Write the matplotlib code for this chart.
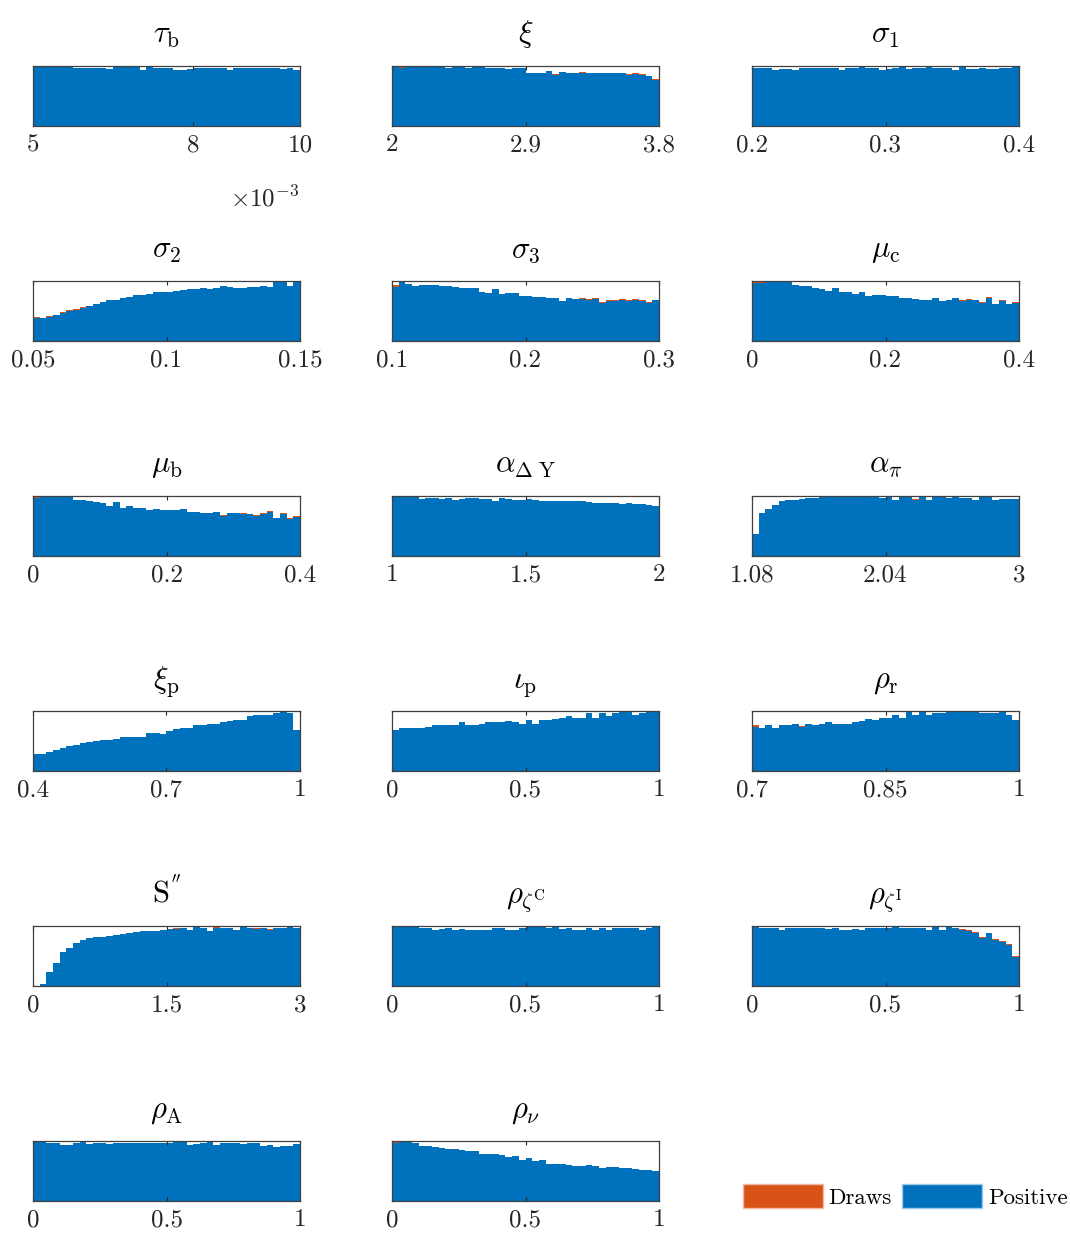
import numpy as np
import matplotlib
matplotlib.use('Agg')
import matplotlib.pyplot as plt
from matplotlib.patches import Patch

plt.rcParams['font.family'] = 'cmr10'
plt.rcParams['mathtext.fontset'] = 'cm'
plt.rcParams['axes.unicode_minus'] = False
plt.rcParams['axes.formatter.use_mathtext'] = True

# bin heights (percent of the tallest bin)
tau_b_pos = [99, 99, 99, 99, 99, 100, 96, 96, 97, 97, 96, 95, 99, 99, 98, 98, 94, 98, 97, 96, 96, 94, 94, 95, 96, 96, 97, 97, 96, 94, 96, 96, 96, 96, 97, 97, 96, 95, 97, 93]
tau_b_drw = [100, 100, 99, 100, 99, 100, 97, 96, 97, 97, 96, 95, 99, 100, 98, 98, 94, 98, 97, 96, 96, 94, 94, 95, 96, 96, 97, 97, 96, 94, 96, 96, 96, 96, 97, 97, 96, 95, 97, 93]
xi_pos = [98, 97, 99, 99, 99, 99, 99, 98, 96, 99, 98, 96, 98, 98, 96, 96, 96, 95, 96, 97, 89, 89, 88, 91, 85, 90, 88, 89, 89, 88, 88, 88, 88, 88, 88, 85, 87, 85, 83, 77]
xi_drw = [100, 98, 100, 100, 100, 99, 100, 98, 96, 100, 98, 96, 98, 98, 96, 96, 96, 95, 96, 97, 89, 89, 88, 91, 86, 90, 88, 89, 90, 89, 89, 89, 89, 89, 89, 86, 88, 86, 84, 79]
sig1_pos = [96, 96, 96, 93, 95, 95, 93, 97, 97, 97, 97, 96, 96, 94, 96, 97, 99, 97, 96, 93, 95, 97, 98, 95, 97, 96, 98, 97, 96, 96, 94, 98, 95, 95, 97, 95, 95, 96, 97, 98]
sig1_drw = [96, 96, 96, 93, 95, 95, 93, 97, 97, 97, 97, 96, 96, 94, 96, 97, 100, 97, 96, 93, 95, 97, 98, 95, 97, 96, 98, 97, 96, 96, 94, 98, 95, 95, 97, 95, 95, 96, 97, 98]
sig2_pos = [38, 38, 40, 43, 47, 50, 52, 55, 59, 62, 65, 68, 69, 72, 74, 76, 77, 78, 81, 82, 82, 84, 85, 86, 87, 88, 86, 89, 91, 90, 89, 89, 90, 90, 92, 90, 99, 99, 91, 98]
sig2_drw = [40, 39, 41, 44, 48, 51, 53, 56, 59, 62, 65, 68, 69, 72, 74, 76, 77, 78, 81, 82, 82, 84, 85, 86, 87, 88, 86, 89, 91, 90, 89, 89, 90, 90, 92, 90, 100, 99, 91, 98]
sig3_pos = [90, 99, 95, 92, 93, 94, 94, 92, 92, 90, 89, 88, 89, 81, 80, 86, 78, 80, 80, 75, 75, 74, 73, 72, 72, 67, 71, 70, 70, 69, 70, 64, 67, 67, 69, 67, 69, 67, 63, 68]
sig3_drw = [93, 100, 95, 92, 93, 94, 94, 92, 92, 90, 89, 88, 89, 81, 80, 86, 78, 80, 80, 75, 75, 74, 73, 72, 72, 67, 71, 70, 71, 70, 71, 65, 68, 68, 70, 68, 70, 68, 65, 69]
mu_c_pos = [97, 97, 98, 99, 99, 99, 94, 92, 91, 89, 86, 83, 88, 81, 81, 79, 81, 75, 77, 76, 75, 75, 72, 72, 70, 69, 69, 71, 67, 69, 71, 67, 69, 69, 64, 72, 61, 67, 61, 64]
mu_c_drw = [98, 98, 99, 100, 100, 99, 94, 92, 91, 89, 86, 83, 88, 81, 81, 79, 81, 75, 77, 76, 75, 75, 72, 72, 70, 69, 69, 71, 67, 69, 72, 68, 70, 69, 65, 73, 62, 68, 62, 65]
mu_b_pos = [97, 99, 100, 100, 100, 100, 94, 93, 91, 90, 89, 84, 90, 80, 83, 80, 80, 76, 78, 77, 76, 76, 78, 73, 73, 71, 71, 73, 67, 71, 71, 70, 70, 67, 70, 74, 63, 70, 62, 65]
mu_b_drw = [98, 100, 100, 100, 100, 100, 94, 93, 91, 90, 89, 84, 90, 80, 83, 80, 80, 76, 78, 77, 76, 76, 78, 73, 73, 71, 71, 73, 68, 72, 72, 71, 70, 68, 71, 75, 64, 71, 63, 66]
a_dy_pos = [100, 100, 100, 100, 95, 96, 96, 95, 96, 94, 95, 96, 96, 95, 95, 92, 96, 95, 94, 93, 95, 94, 92, 91, 92, 91, 92, 91, 91, 90, 88, 88, 89, 88, 86, 88, 86, 87, 85, 84]
a_dy_drw = [100, 100, 100, 100, 95, 96, 96, 95, 96, 94, 95, 96, 96, 95, 95, 92, 96, 95, 94, 93, 95, 94, 92, 91, 92, 91, 92, 91, 91, 90, 88, 88, 89, 88, 86, 88, 86, 87, 85, 84]
a_pi_pos = [37, 72, 79, 85, 91, 93, 94, 95, 96, 97, 98, 99, 98, 99, 99, 99, 98, 99, 98, 96, 99, 93, 98, 99, 94, 99, 93, 99, 100, 96, 99, 96, 97, 94, 99, 100, 94, 95, 95, 95]
a_pi_drw = [37, 72, 79, 85, 91, 93, 94, 95, 96, 97, 98, 99, 98, 99, 99, 99, 98, 99, 98, 96, 99, 94, 98, 99, 95, 99, 94, 99, 100, 96, 99, 96, 97, 94, 99, 100, 94, 95, 95, 95]
xi_p_pos = [29, 28, 32, 35, 39, 42, 44, 46, 48, 50, 52, 52, 53, 57, 56, 56, 57, 63, 63, 61, 66, 70, 71, 72, 76, 77, 78, 79, 81, 83, 85, 85, 91, 94, 94, 94, 96, 99, 96, 68]
xi_p_drw = [29, 28, 32, 35, 39, 42, 44, 46, 48, 50, 52, 52, 53, 57, 56, 56, 57, 63, 63, 61, 66, 70, 71, 72, 76, 77, 78, 79, 81, 83, 85, 85, 91, 94, 94, 94, 96, 100, 96, 68]
iota_p_pos = [69, 71, 71, 72, 72, 74, 76, 76, 77, 77, 81, 76, 76, 78, 82, 82, 82, 83, 81, 78, 85, 79, 85, 85, 86, 88, 91, 89, 89, 96, 88, 96, 92, 96, 98, 99, 93, 96, 98, 99]
iota_p_drw = [69, 71, 71, 72, 72, 74, 76, 76, 77, 77, 81, 76, 76, 78, 82, 82, 82, 83, 81, 78, 85, 79, 85, 85, 86, 88, 91, 89, 89, 96, 88, 96, 92, 96, 98, 100, 93, 96, 98, 100]
rho_r_pos = [74, 71, 76, 71, 76, 76, 78, 74, 78, 76, 78, 82, 78, 78, 79, 82, 83, 87, 85, 88, 88, 94, 88, 99, 93, 98, 93, 96, 96, 98, 99, 99, 98, 98, 97, 96, 96, 98, 94, 85]
rho_r_drw = [76, 72, 77, 72, 77, 77, 78, 75, 78, 76, 78, 82, 78, 78, 79, 82, 83, 87, 85, 88, 88, 94, 88, 100, 93, 98, 93, 96, 96, 98, 99, 99, 98, 98, 97, 96, 96, 98, 94, 85]
s_pp_pos = [0, 4, 23, 38, 56, 63, 71, 76, 80, 81, 82, 84, 85, 87, 88, 90, 91, 91, 92, 93, 95, 95, 96, 93, 99, 97, 91, 97, 96, 96, 93, 99, 96, 95, 96, 94, 96, 97, 99, 96]
s_pp_drw = [0, 4, 23, 38, 56, 63, 71, 76, 80, 81, 82, 84, 85, 87, 88, 90, 91, 91, 92, 93, 95, 96, 96, 94, 99, 97, 92, 98, 97, 96, 94, 100, 96, 96, 97, 95, 96, 97, 99, 97]
rho_zc_pos = [98, 98, 98, 98, 96, 96, 93, 95, 96, 93, 95, 94, 94, 94, 93, 96, 96, 94, 94, 96, 99, 98, 98, 97, 99, 95, 96, 94, 94, 97, 93, 96, 94, 96, 96, 96, 96, 94, 96, 98]
rho_zc_drw = [98, 98, 98, 98, 96, 96, 93, 95, 96, 93, 95, 94, 94, 94, 93, 96, 96, 94, 94, 96, 99, 98, 98, 97, 100, 95, 96, 94, 94, 97, 93, 96, 94, 96, 96, 96, 96, 94, 96, 99]
rho_zi_pos = [98, 96, 96, 97, 94, 97, 97, 97, 97, 96, 96, 95, 96, 94, 93, 95, 94, 96, 96, 96, 97, 98, 96, 96, 96, 96, 94, 98, 94, 99, 96, 94, 92, 89, 80, 88, 77, 74, 69, 49]
rho_zi_drw = [98, 96, 96, 97, 94, 97, 97, 97, 97, 96, 96, 95, 96, 94, 93, 95, 94, 96, 96, 96, 97, 98, 96, 96, 96, 96, 94, 98, 94, 100, 97, 95, 93, 90, 81, 89, 78, 75, 70, 50]
rho_a_pos = [99, 99, 97, 97, 94, 94, 97, 99, 95, 96, 97, 95, 96, 97, 97, 97, 97, 96, 96, 97, 97, 98, 99, 93, 95, 97, 98, 93, 97, 96, 96, 95, 96, 96, 92, 94, 90, 91, 91, 95]
rho_a_drw = [100, 99, 97, 97, 94, 94, 97, 100, 95, 96, 97, 95, 96, 97, 97, 97, 97, 96, 96, 97, 97, 98, 99, 93, 95, 97, 98, 93, 97, 96, 96, 95, 96, 96, 92, 94, 90, 91, 91, 95]
rho_nu_pos = [96, 99, 99, 96, 92, 92, 90, 88, 87, 87, 85, 84, 83, 79, 78, 78, 77, 74, 75, 68, 71, 67, 68, 62, 62, 62, 60, 58, 58, 60, 58, 55, 56, 56, 55, 55, 54, 52, 51, 50]
rho_nu_drw = [98, 100, 99, 96, 92, 92, 90, 88, 87, 87, 85, 84, 83, 79, 78, 78, 77, 74, 75, 68, 71, 67, 68, 62, 62, 62, 60, 58, 58, 60, 58, 55, 56, 56, 55, 55, 54, 52, 51, 50]

titles = [r'$\tau_{\mathrm{b}}$', r'$\xi$', r'$\sigma_{1}$',
          r'$\sigma_{2}$', r'$\sigma_{3}$', r'$\mu_{\mathrm{c}}$',
          r'$\mu_{\mathrm{b}}$', r'$\alpha_{\Delta\ \mathrm{Y}}$', r'$\alpha_{\pi}$',
          r'$\xi_{\mathrm{p}}$', r'$\iota_{\mathrm{p}}$', r'$\rho_{\mathrm{r}}$',
          r"$\mathrm{S}^{''}$", r'$\rho_{\zeta^{\mathrm{C}}}$', r'$\rho_{\zeta^{\mathrm{I}}}$',
          r'$\rho_{\mathrm{A}}$', r'$\rho_{\nu}$']
ticks = [[5, 8, 10], [2, 2.9, 3.8], [0.2, 0.3, 0.4],
         [0.05, 0.1, 0.15], [0.1, 0.2, 0.3], [0, 0.2, 0.4],
         [0, 0.2, 0.4], [1, 1.5, 2], [1.08, 2.04, 3],
         [0.4, 0.7, 1], [0, 0.5, 1], [0.7, 0.85, 1],
         [0, 1.5, 3], [0, 0.5, 1], [0, 0.5, 1],
         [0, 0.5, 1], [0, 0.5, 1]]
tick_labels = [['5', '8', '10'], ['2', '2.9', '3.8'], ['0.2', '0.3', '0.4'],
               ['0.05', '0.1', '0.15'], ['0.1', '0.2', '0.3'], ['0', '0.2', '0.4'],
               ['0', '0.2', '0.4'], ['1', '1.5', '2'], ['1.08', '2.04', '3'],
               ['0.4', '0.7', '1'], ['0', '0.5', '1'], ['0.7', '0.85', '1'],
               ['0', '1.5', '3'], ['0', '0.5', '1'], ['0', '0.5', '1'],
               ['0', '0.5', '1'], ['0', '0.5', '1']]
positive = [tau_b_pos, xi_pos, sig1_pos, sig2_pos, sig3_pos, mu_c_pos, mu_b_pos,
            a_dy_pos, a_pi_pos, xi_p_pos, iota_p_pos, rho_r_pos, s_pp_pos,
            rho_zc_pos, rho_zi_pos, rho_a_pos, rho_nu_pos]
draws = [tau_b_drw, xi_drw, sig1_drw, sig2_drw, sig3_drw, mu_c_drw, mu_b_drw,
         a_dy_drw, a_pi_drw, xi_p_drw, iota_p_drw, rho_r_drw, s_pp_drw,
         rho_zc_drw, rho_zi_drw, rho_a_drw, rho_nu_drw]

orange = '#D95319'
blue = '#0072BD'

W, H = 1070, 1234
fig = plt.figure(figsize=(W / 100, H / 100), dpi=100)

col_left = [33, 392, 752]
row_top = [66, 281, 496, 711, 926, 1141]
aw, ah = 267, 60

for i in range(len(titles)):
    r, c = divmod(i, 3)
    ax = fig.add_axes([col_left[c] / W, 1 - (row_top[r] + ah) / H, aw / W, ah / H])
    lo, hi = ticks[i][0], ticks[i][-1]
    edges = np.linspace(lo, hi, len(positive[i]) + 1)
    # stairs instead of bar: no hairline gaps between bins
    ax.stairs(draws[i], edges, fill=True, color=orange, linewidth=0)
    ax.stairs(positive[i], edges, fill=True, color=blue, linewidth=0)
    ax.set_xlim(lo, hi)
    ax.set_ylim(0, max(draws[i]))
    ax.set_yticks([])
    ax.set_xticks(ticks[i])
    ax.set_xticklabels(tick_labels[i], fontsize=18)
    ax.tick_params(axis='x', direction='in', length=3, width=0.8, top=True, pad=6, colors='#262626')
    for s in ax.spines.values():
        s.set_color('#404040')
        s.set_linewidth(0.9)
    ax.set_title(titles[i], fontsize=22, pad=17)

fig.text(299 / W, 1 - 206 / H, r'$\times10^{\mathrm{-3}}$', fontsize=18, ha='right', va='baseline', color='#262626')

handles = [Patch(facecolor=orange, edgecolor='#f0b8a0', label='Draws'),
           Patch(facecolor=blue, edgecolor='#a0c8ea', label='Positive')]
fig.legend(handles=handles, loc='center left', bbox_to_anchor=(722 / W, 1 - 1196 / H),
           ncol=2, frameon=False, fontsize=16.5, handlelength=3.5, handleheight=1.2,
           handletextpad=0.25, columnspacing=0.45)

plt.savefig('out.png', dpi=100)
